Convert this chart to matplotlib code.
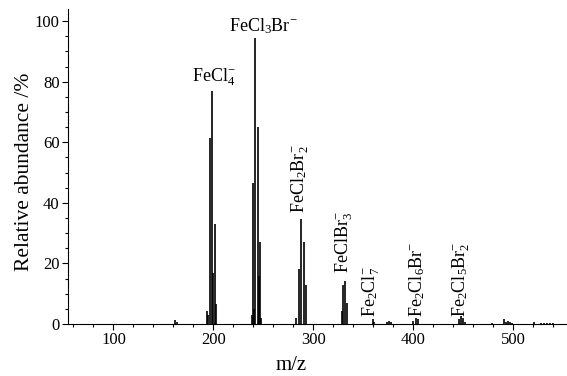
import matplotlib
matplotlib.use("Agg")
import matplotlib.pyplot as plt
from matplotlib.ticker import MultipleLocator

plt.rcParams['font.family'] = ['Liberation Serif', 'DejaVu Serif']
plt.rcParams['mathtext.fontset'] = 'custom'
plt.rcParams['mathtext.rm'] = 'Liberation Serif'
plt.rcParams['mathtext.it'] = 'Liberation Serif:italic'
plt.rcParams['mathtext.bf'] = 'Liberation Serif:bold'

# peak positions (m/z) and relative abundances (%)
mz = [162.0, 163.7,
      193.2, 194.5, 196.8, 198.8, 200.0, 201.5, 202.5,
      238.3, 239.5, 240.5, 242.0, 244.5, 245.8, 246.8, 248.0,
      283.0, 285.5, 288.0, 290.5, 293.0,
      328.5, 330.0, 332.0, 333.5,
      359.5, 360.5, 374.0, 375.5, 378.0,
      400.0, 403.0, 405.0,
      446.0, 448.0, 450.0, 452.0,
      479.0, 490.5, 492.5, 494.5, 497.0, 499.0, 520.5,
      528.0, 531.0, 534.0, 537.0, 540.0]
abundance = [1.3, 0.5,
             4.2, 3.0, 61.5, 77.0, 17.0, 33.0, 6.5,
             3.0, 46.5, 5.0, 94.5, 65.0, 16.0, 27.0, 2.0,
             2.0, 18.0, 34.7, 27.0, 13.0,
             4.3, 13.0, 14.2, 7.0,
             1.8, 0.8, 0.8, 1.0, 0.5,
             1.0, 2.0, 1.5,
             1.5, 2.5, 2.0, 0.8,
             0.3, 1.5, 0.8, 1.0, 0.5, 0.3, 0.5,
             0.4, 0.3, 0.4, 0.3, 0.3]

labels = [r'FeCl$_4^{-}$', r'FeCl$_3$Br$^{-}$', r'FeCl$_2$Br$_2^{-}$',
          r'FeClBr$_3^{-}$', r'Fe$_2$Cl$_7^{-}$', r'Fe$_2$Cl$_6$Br$^{-}$',
          r'Fe$_2$Cl$_5$Br$_2^{-}$']
label_x = [200.5, 249.5, 287.0, 331.5, 358.5, 404.5, 448.5]
label_y = [78.0, 95.0, 36.7, 17.0, 2.3, 2.3, 2.3]
label_rot = [0, 0, 90, 90, 90, 90, 90]

fig = plt.figure(figsize=(5.67, 3.76), dpi=100)
ax = fig.add_axes([68/567, 1-324/376, 1-68/567, (324-9)/376])

ax.vlines(mz, 0, abundance, colors='black', linewidth=1.2)

for t, x, y, r in zip(labels, label_x, label_y, label_rot):
    ax.text(x, y, t, ha='center', va='bottom', rotation=r, fontsize=13)

ax.set_xlim(54.5, 554)
ax.set_ylim(0, 104)
ax.spines['top'].set_visible(False)
ax.spines['right'].set_visible(False)
ax.xaxis.set_major_locator(MultipleLocator(100))
ax.xaxis.set_minor_locator(MultipleLocator(20))
ax.yaxis.set_major_locator(MultipleLocator(20))
ax.yaxis.set_minor_locator(MultipleLocator(5))
ax.tick_params(axis='both', which='major', direction='out', length=4, width=0.8, labelsize=12, pad=2)
ax.tick_params(axis='both', which='minor', direction='out', length=2, width=0.8)
ax.set_xlabel('m/z', fontsize=15)
ax.set_ylabel('Relative abundance /%', fontsize=15.5)
ax.xaxis.set_label_coords(0.447, -0.10)
ax.yaxis.set_label_coords(-0.068, 0.483)

fig.savefig('out.png', dpi=100)
